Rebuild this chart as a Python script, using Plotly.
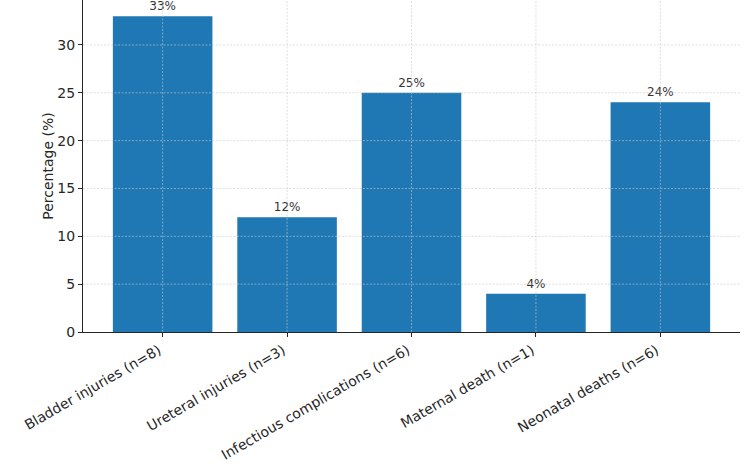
import plotly.graph_objects as go

categories = ["Bladder injuries (n=8)", "Ureteral injuries (n=3)", "Infectious complications (n=6)",
              "Maternal death (n=1)", "Neonatal deaths (n=6)"]
values = [33, 12, 25, 4, 24]
ytick_vals = [0, 5, 10, 15, 20, 25, 30]
labels = [f"{v}%" for v in values]

FONT = "DejaVu Sans"
fig = go.Figure()
fig.add_trace(go.Bar(
    x=list(range(len(categories))), y=values, width=0.8,
    marker=dict(color="#1f77b4", line=dict(width=0)),
    text=labels, textposition="outside", cliponaxis=False,
    textfont=dict(family=FONT, size=12, color="#333333"),
))

GRID = dict(color="rgba(200,200,200,0.75)", width=0.8, dash="2px,1.5px")
shapes = []
for t in ytick_vals[1:]:
    shapes.append(dict(type="line", xref="paper", yref="y", x0=0, x1=1, y0=t, y1=t,
                       line=GRID, layer="above"))
for i in range(len(categories)):
    shapes.append(dict(type="line", xref="x", yref="paper", x0=i, x1=i, y0=0, y1=1,
                       line=GRID, layer="above"))

fig.update_layout(
    width=750, height=467,
    margin=dict(l=83, r=10, t=0, b=135),
    plot_bgcolor="white", paper_bgcolor="white",
    showlegend=False, shapes=shapes,
    font=dict(family=FONT, size=14, color="#262626"),
    xaxis=dict(range=[-0.64, 4.64], tickvals=list(range(len(categories))), ticktext=categories,
               tickangle=-30, showgrid=False, showline=True, linecolor="#262626", linewidth=1,
               ticks="outside", ticklen=4, tickcolor="#262626", zeroline=False,
               ticklabelshift=-4),
    yaxis=dict(range=[0, 34.7], tickvals=ytick_vals, showgrid=False, showline=True,
               linecolor="#262626", linewidth=1, ticks="outside", ticklen=4, tickcolor="#262626",
               zeroline=False, title=dict(text="Percentage (%)", font=dict(size=14), standoff=0)),
    bargap=0.2,
)
fig.write_html("out.html")
